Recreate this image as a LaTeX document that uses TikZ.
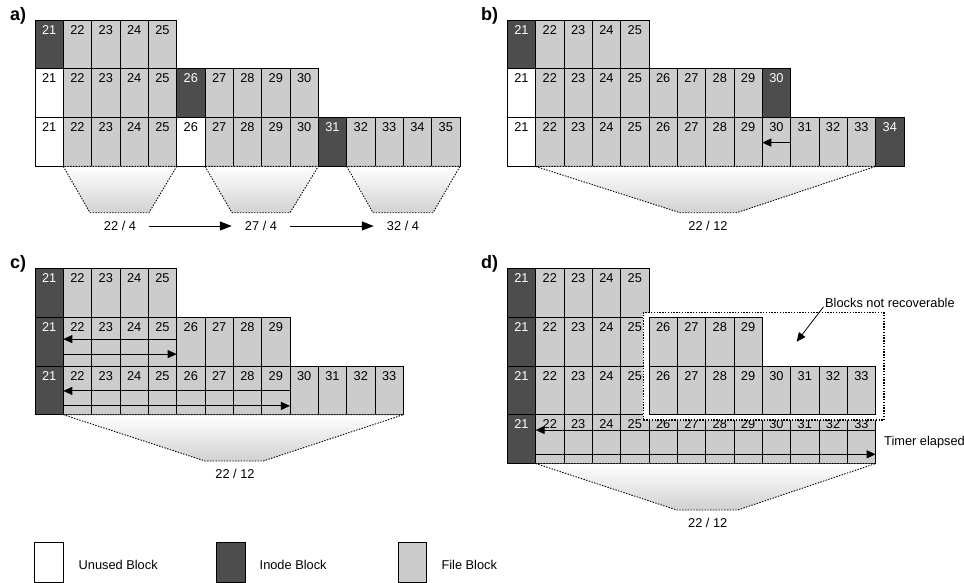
\documentclass[tikz,border=0pt]{standalone}
\usepackage{fontspec}
\setmainfont{Liberation Sans}
\usetikzlibrary{arrows.meta}
\definecolor{inode}{HTML}{4D4D4D}
\definecolor{fileblk}{HTML}{CCCCCC}
\newcommand\cellw{28.33}
\newcommand\cellfont{\fontsize{12.8}{14}\selectfont}
\newcommand\blkrow[5]{%
  \foreach \typ [count=\i from 0] in {#5} {
    \pgfmathtruncatemacro\nn{#4+\i}
    \node[blk-\typ] (#1-\i) at ({#2+\i*\cellw},{#3}) {};
    \node[num-\typ] (#1-\i-t) at ([yshift=-5pt]#1-\i.north) {\nn};
  }%
}
\tikzset{
  blk/.style={draw=black, line width=0.8pt, minimum width=28.33pt, minimum height=48.8pt,
    anchor=north west, inner sep=0pt, outer sep=0pt},
  blk-I/.style={blk, fill=inode},
  blk-F/.style={blk, fill=fileblk},
  blk-U/.style={blk, fill=white},
  num/.style={inner sep=0pt, anchor=north, font=\cellfont},
  num-I/.style={num, text=white},
  num-F/.style={num, text=black},
  num-U/.style={num, text=black},
  trap/.style={draw=black, line width=0.9pt, dash pattern=on 1.4pt off 1.4pt,
    top color=white, bottom color=black!18},
  lbl/.style={inner sep=0pt, font=\cellfont},
  panel/.style={inner sep=0pt, anchor=base west, font=\fontsize{18}{20}\selectfont\bfseries},
  bigarr/.style={line width=1pt, -{Triangle[length=12pt,width=9pt]}},
  arr/.style={line width=0.9pt, -{Triangle[length=9pt,width=8pt]}},
  lostbox/.style={draw=black, line width=1.1pt, dash pattern=on 1.4pt off 1.4pt, fill=white,
    anchor=north west, inner sep=0pt, outer sep=0pt, minimum width=240.7pt, minimum height=107.3pt},
  leg/.style={blk, minimum height=40pt, minimum width=28.7pt},
}
\begin{document}
\begin{tikzpicture}[x=1pt,y=-1pt]
\useasboundingbox (0,0) rectangle (964,582);
% ---------- a)
\node[panel] (pa) at (10,20.5) {a)};
\blkrow{a1}{35}{20}{21}{I,F,F,F,F}
\blkrow{a2}{35}{68.8}{21}{U,F,F,F,F,I,F,F,F,F}
\blkrow{a3}{35}{117.6}{21}{U,F,F,F,F,U,F,F,F,F,I,F,F,F,F}
\path[trap] (63.3,166.4) -- (90,212.7) -- (149,212.7) -- (176.7,166.4) -- cycle;
\path[trap] (205,166.4) -- (232,212.7) -- (290,212.7) -- (318.3,166.4) -- cycle;
\path[trap] (346.7,166.4) -- (373,212.7) -- (433,212.7) -- (460,166.4) -- cycle;
\node[lbl] (la1) at (120,226) {22 / 4};
\node[lbl] (la2) at (261,226) {27 / 4};
\node[lbl] (la3) at (403,226) {32 / 4};
\draw[bigarr] ([xshift=12.5pt]la1.east) -- ([xshift=-13pt]la2.west);
\draw[bigarr] ([xshift=13pt]la2.east) -- ([xshift=-13pt]la3.west);
% ---------- b)
\node[panel] (pb) at (481,20.5) {b)};
\blkrow{b1}{507.3}{20}{21}{I,F,F,F,F}
\blkrow{b2}{507.3}{68.8}{21}{U,F,F,F,F,F,F,F,F,I}
\blkrow{b3}{507.3}{117.6}{21}{U,F,F,F,F,F,F,F,F,F,F,F,F,I}
\draw[arr] ([yshift=-25pt]b3-9.north east) -- ([yshift=-25pt]b3-9.north west);
\path[trap] (535.6,166.4) -- (680,212.7) -- (736.7,212.7) -- (875.6,166.4) -- cycle;
\node[lbl] (lb) at (708,226) {22 / 12};
% ---------- c)
\node[panel] (pc) at (10,268.5) {c)};
\blkrow{c1}{35}{268.3}{21}{I,F,F,F,F}
\blkrow{c2}{35}{317.1}{21}{I,F,F,F,F,F,F,F,F}
\blkrow{c3}{35}{365.9}{21}{I,F,F,F,F,F,F,F,F,F,F,F,F}
\draw[arr] ([yshift=-22pt]c2-4.north east) -- ([yshift=-22pt]c2-1.north west);
\draw[arr] ([yshift=-37pt]c2-1.north west) -- ([yshift=-37pt]c2-4.north east);
\draw[arr] ([yshift=-25pt]c3-8.north east) -- ([yshift=-25pt]c3-1.north west);
\draw[arr] ([yshift=-40pt]c3-1.north west) -- ([yshift=-40pt]c3-8.north east);
\path[trap] (63.3,414.7) -- (205,461) -- (263.3,461) -- (403.3,414.7) -- cycle;
\node[lbl] (lc) at (235,474) {22 / 12};
% ---------- d)
\node[panel] (pd) at (481,268.5) {d)};
\blkrow{d1}{507.3}{268.3}{21}{I,F,F,F,F}
\blkrow{d2}{507.3}{317.1}{21}{I,F,F,F,F,F,F,F,F}
\blkrow{d3}{507.3}{365.9}{21}{I,F,F,F,F,F,F,F,F,F,F,F,F}
\blkrow{d4}{507.3}{414.7}{21}{I,F,F,F,F,F,F,F,F,F,F,F,F}
\node[lostbox] (lost) at (643.3,312.7) {};
\blkrow{e2}{648.95}{317.1}{26}{F,F,F,F}
\blkrow{e3}{648.95}{365.9}{26}{F,F,F,F,F,F,F,F}
\draw[arr] ([yshift=-15.3pt]d4-12.north east) -- ([yshift=-15.3pt]d4-1.north west);
\draw[arr] ([yshift=-39.6pt]d4-1.north west) -- ([yshift=-39.6pt]d4-12.north east);
\node[lbl, anchor=west] (timer) at (884,442) {Timer elapsed};
\node[lbl, anchor=west] (bnr) at (825,303.3) {Blocks not recoverable};
\coordinate (bnrtip) at (796.7,341.7);
\draw[arr, line width=0.8pt] ([xshift=-1.5pt,yshift=-3.5pt]bnr.west) -- (bnrtip);
\path[trap] (535.6,463.5) -- (676.7,510) -- (737.7,510) -- (875.7,463.5) -- cycle;
\node[lbl] (ld) at (707.7,522.7) {22 / 12};
% ---------- legend
\node[leg, fill=white] (gu) at (34.4,542.4) {};
\node[lbl, anchor=west] (tu) at (78.5,565.3) {Unused Block};
\node[leg, fill=inode] (gi) at (216.2,542.4) {};
\node[lbl, anchor=west] (ti) at (259.5,565.3) {Inode Block};
\node[leg, fill=fileblk] (gf) at (398,542.4) {};
\node[lbl, anchor=west] (tf) at (441.3,565.3) {File Block};
\end{tikzpicture}
\end{document}
